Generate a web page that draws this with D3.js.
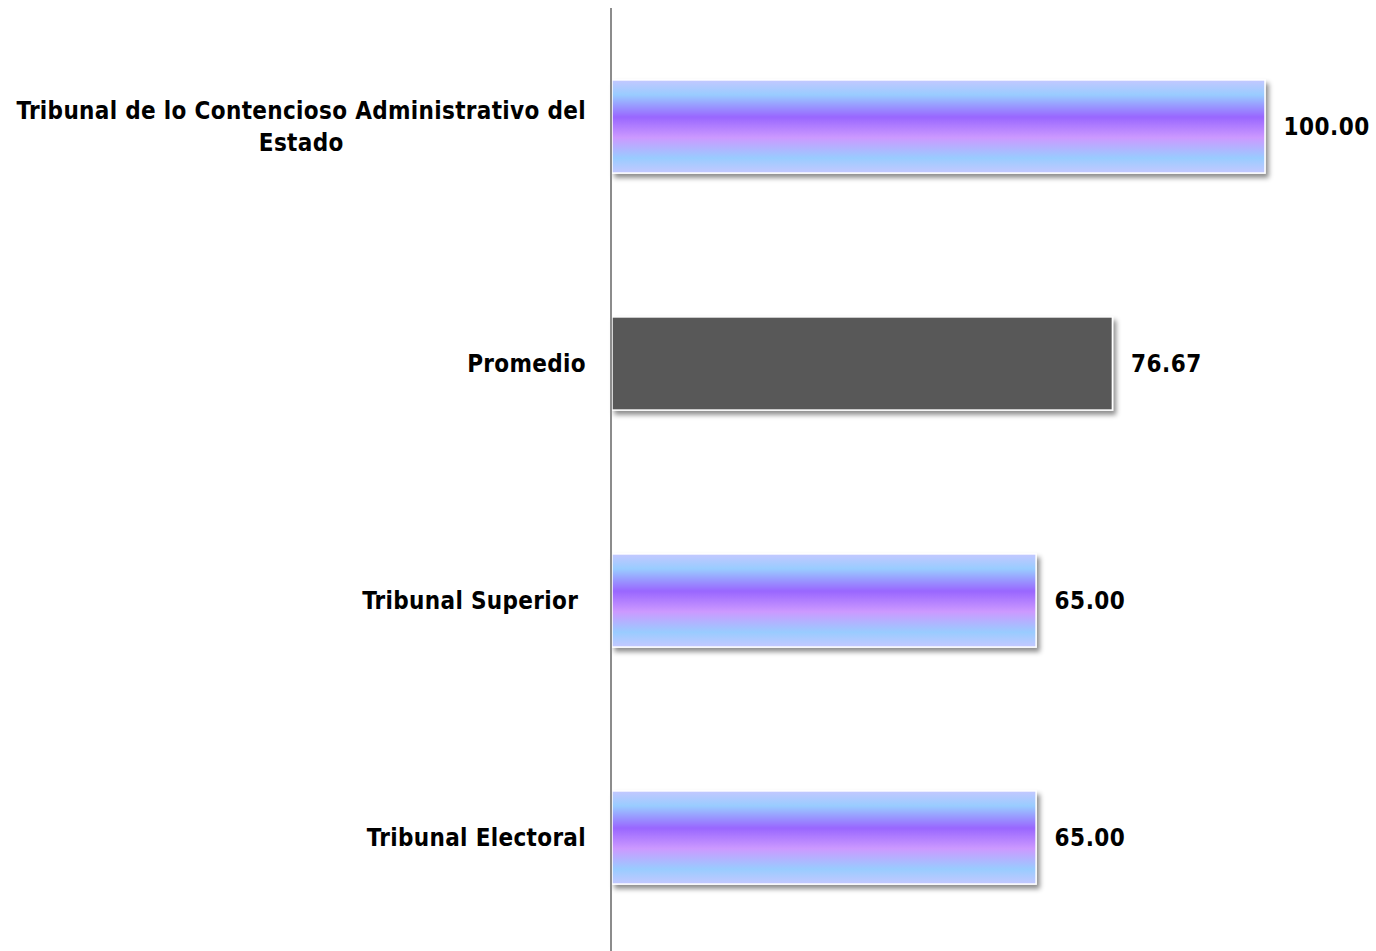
<!DOCTYPE html>
<html>
<head>
<meta charset="utf-8">
<script src="https://cdn.jsdelivr.net/npm/d3@7"></script>
<style>
  body { margin: 0; background: #fff; }
  svg { display: block; }
  text { font-family: "DejaVu Sans Condensed", "DejaVu Sans", sans-serif; font-weight: bold; fill: #000; white-space: pre; }
</style>
</head>
<body>
<svg width="1376" height="951"></svg>
<script>
// data
const categories = [
    ["Tribunal de lo Contencioso Administrativo del", "Estado"],
    ["Promedio"],
    ["Tribunal Superior "],
    ["Tribunal Electoral"]
];
const values = [100, 76.67, 65, 65];
const isAverage = [false, true, false, false];

const svg = d3.select("svg");
const width = 1376, height = 951;
const axisX = 611;

let x = d3.scaleLinear()
    .domain([0, 100])
    .range([axisX, 1265]);

let y = d3.scaleBand()
    .domain(d3.range(categories.length))
    .range([8, 956])
    .paddingInner(0.607)
    .paddingOuter(0.3035);

let defs = svg.append("defs");

let grad = defs.append("linearGradient")
    .attr("id", "barGrad")
    .attr("x1", 0).attr("y1", 0)
    .attr("x2", 0).attr("y2", 1);
[
    [0, "#c4c8ff"],
    [0.16, "#99ccff"],
    [0.40, "#9966ff"],
    [0.62, "#cc99ff"],
    [0.84, "#99ccff"],
    [1, "#c4c8ff"]
].forEach(s => grad.append("stop").attr("offset", s[0]).attr("stop-color", s[1]));

let shadow = defs.append("filter")
    .attr("id", "shadow")
    .attr("x", "-5%").attr("y", "-10%")
    .attr("width", "115%").attr("height", "130%");
shadow.append("feDropShadow")
    .attr("dx", 3).attr("dy", 4)
    .attr("stdDeviation", 2.5)
    .attr("flood-color", "#000")
    .attr("flood-opacity", 0.45);

let bars = svg.append("g");

bars.selectAll(".bar")
    .data(values)
    .enter()
    .append("rect")
    .attr("class", "bar")
    .attr("x", x(0) + 1)
    .attr("y", (d, i) => y(i))
    .attr("width", d => x(d) - x(0) - 1)
    .attr("height", y.bandwidth())
    .attr("fill", (d, i) => isAverage[i] ? "#595959" : "url(#barGrad)")
    .attr("stroke", "#fff")
    .attr("stroke-width", 1.5)
    .attr("filter", "url(#shadow)");

// value labels
svg.append("g")
    .selectAll(".value")
    .data(values)
    .enter()
    .append("text")
    .attr("class", "value")
    .attr("x", d => x(d) + 18.5)
    .attr("y", (d, i) => y(i) + y.bandwidth() / 2)
    .attr("dy", "0.36em")
    .style("font-size", "24px")
    .style("letter-spacing", "0.5px")
    .text(d => d3.format(".2f")(d));

// category labels
let labels = svg.append("g")
    .selectAll(".cat")
    .data(categories)
    .enter()
    .append("text")
    .attr("class", "cat")
    .attr("text-anchor", "middle")
    .style("font-size", "24px")
    .style("letter-spacing", "0.33px")
    .attr("y", (d, i) => y(i) + y.bandwidth() / 2);

const lineH = 32;
labels.each(function(lines) {
    let t = d3.select(this);
    lines.forEach((line, j) => {
        t.append("tspan")
            .attr("x", 0)
            .attr("dy", j === 0 ? ((0.36 - (lines.length - 1) * lineH / 2 / 24) + "em") : lineH + "px")
            .text(line);
    });
});
// right align the block, centre each line within it (like a wrapped label)
labels.each(function() {
    let t = d3.select(this);
    let w = d3.max(t.selectAll("tspan").nodes(), n => n.getComputedTextLength());
    t.attr("transform", `translate(${586 - w / 2},0)`);
});

// axis line
svg.append("line")
    .attr("x1", axisX).attr("x2", axisX)
    .attr("y1", 8).attr("y2", height)
    .attr("stroke", "#8c8c8c")
    .attr("stroke-width", 2);
</script>
</body>
</html>
